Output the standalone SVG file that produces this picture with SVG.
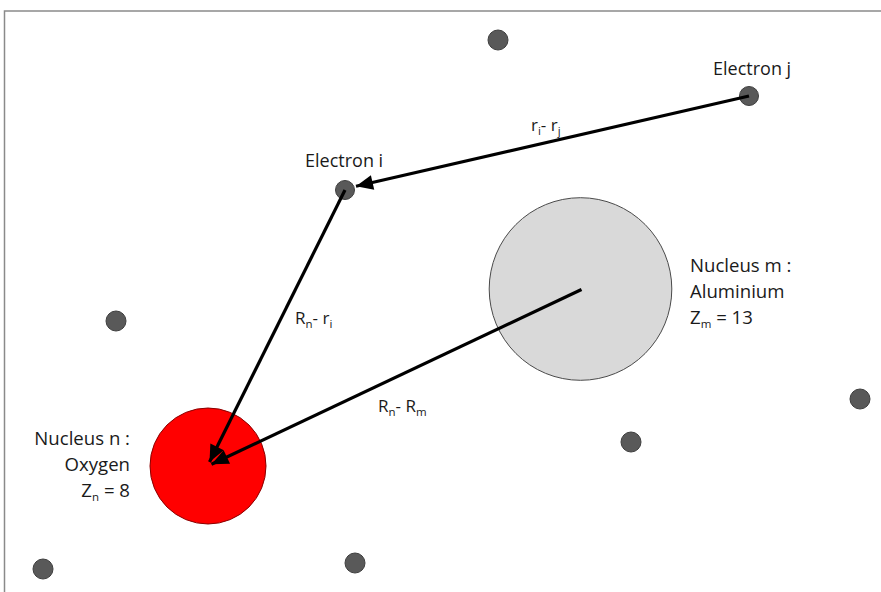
<svg xmlns="http://www.w3.org/2000/svg" width="881" height="592" viewBox="0 0 881 592">
<defs>
<style>
.e{fill:#595959;stroke:#3f3f3f;stroke-width:1}
.lbl{font-family:"Open Sans","Liberation Sans",sans-serif;fill:#1a1a1a}
.big{font-size:18.6px}
.mid{font-size:18px}
.vec{font-size:17px}
.sub{font-size:11.5px}
.c{stroke:#000;stroke-width:3.2;fill:none;marker-end:url(#ah)}
</style>
<marker id="ah" markerUnits="userSpaceOnUse" markerWidth="20" markerHeight="18" viewBox="0 0 20 18" refX="18" refY="9" orient="auto">
<path d="M1,1.5 L18,9 L1,16.5 Z" fill="#000"/>
</marker>
</defs>
<rect x="0" y="0" width="881" height="592" fill="#fff"/>
<rect x="4.5" y="11" width="1000" height="1000" fill="none" stroke="#8a8a8a" stroke-width="1.5"/>
<g id="nucleus-m">
<circle cx="580.5" cy="289" r="91.3" fill="#d9d9d9" stroke="#4a4a4a" stroke-width="1"/>
<text class="lbl big" x="690" y="272">Nucleus m :</text>
<text class="lbl big" x="690" y="298">Aluminium</text>
<text class="lbl big" x="690" y="324">Z<tspan class="sub" dy="4">m</tspan><tspan dy="-4"> = 13</tspan></text>
</g>
<g id="nucleus-n">
<circle cx="208" cy="466" r="58" fill="#ff0000" stroke="#8b0000" stroke-width="1"/>
<text class="lbl big" x="130" y="445" text-anchor="end">Nucleus n :</text>
<text class="lbl big" x="130" y="471" text-anchor="end">Oxygen</text>
<text class="lbl big" x="130" y="497" text-anchor="end">Z<tspan class="sub" dy="4">n</tspan><tspan dy="-4"> = 8</tspan></text>
</g>
<g id="electron-j">
<circle class="e" cx="749" cy="96" r="9.5"/>
<text class="lbl mid" x="713" y="75">Electron j</text>
</g>
<g id="electron-i">
<circle class="e" cx="345" cy="190" r="9.5"/>
<text class="lbl mid" x="305" y="167">Electron i</text>
</g>
<g id="electrons">
<circle class="e" cx="498" cy="40" r="10"/>
<circle class="e" cx="116" cy="321" r="10"/>
<circle class="e" cx="860" cy="399" r="10"/>
<circle class="e" cx="631" cy="442" r="10"/>
<circle class="e" cx="355" cy="563" r="10"/>
<circle class="e" cx="43" cy="569" r="10"/>
</g>
<g id="connectors">
<line class="c" x1="749" y1="96" x2="356" y2="186.3"/>
<line class="c" x1="345" y1="190" x2="209.5" y2="462"/>
<line class="c" x1="581.5" y1="289.5" x2="211.5" y2="464.3"/>
<text class="lbl vec" x="531" y="131">r<tspan class="sub" dy="4">i</tspan><tspan dy="-4">- r</tspan><tspan class="sub" dy="4">j</tspan></text>
<text class="lbl vec" x="295" y="324">R<tspan class="sub" dy="4">n</tspan><tspan dy="-4">- r</tspan><tspan class="sub" dy="4">i</tspan></text>
<text class="lbl vec" x="378" y="412">R<tspan class="sub" dy="4">n</tspan><tspan dy="-4">- R</tspan><tspan class="sub" dy="4">m</tspan></text>
</g>
</svg>
